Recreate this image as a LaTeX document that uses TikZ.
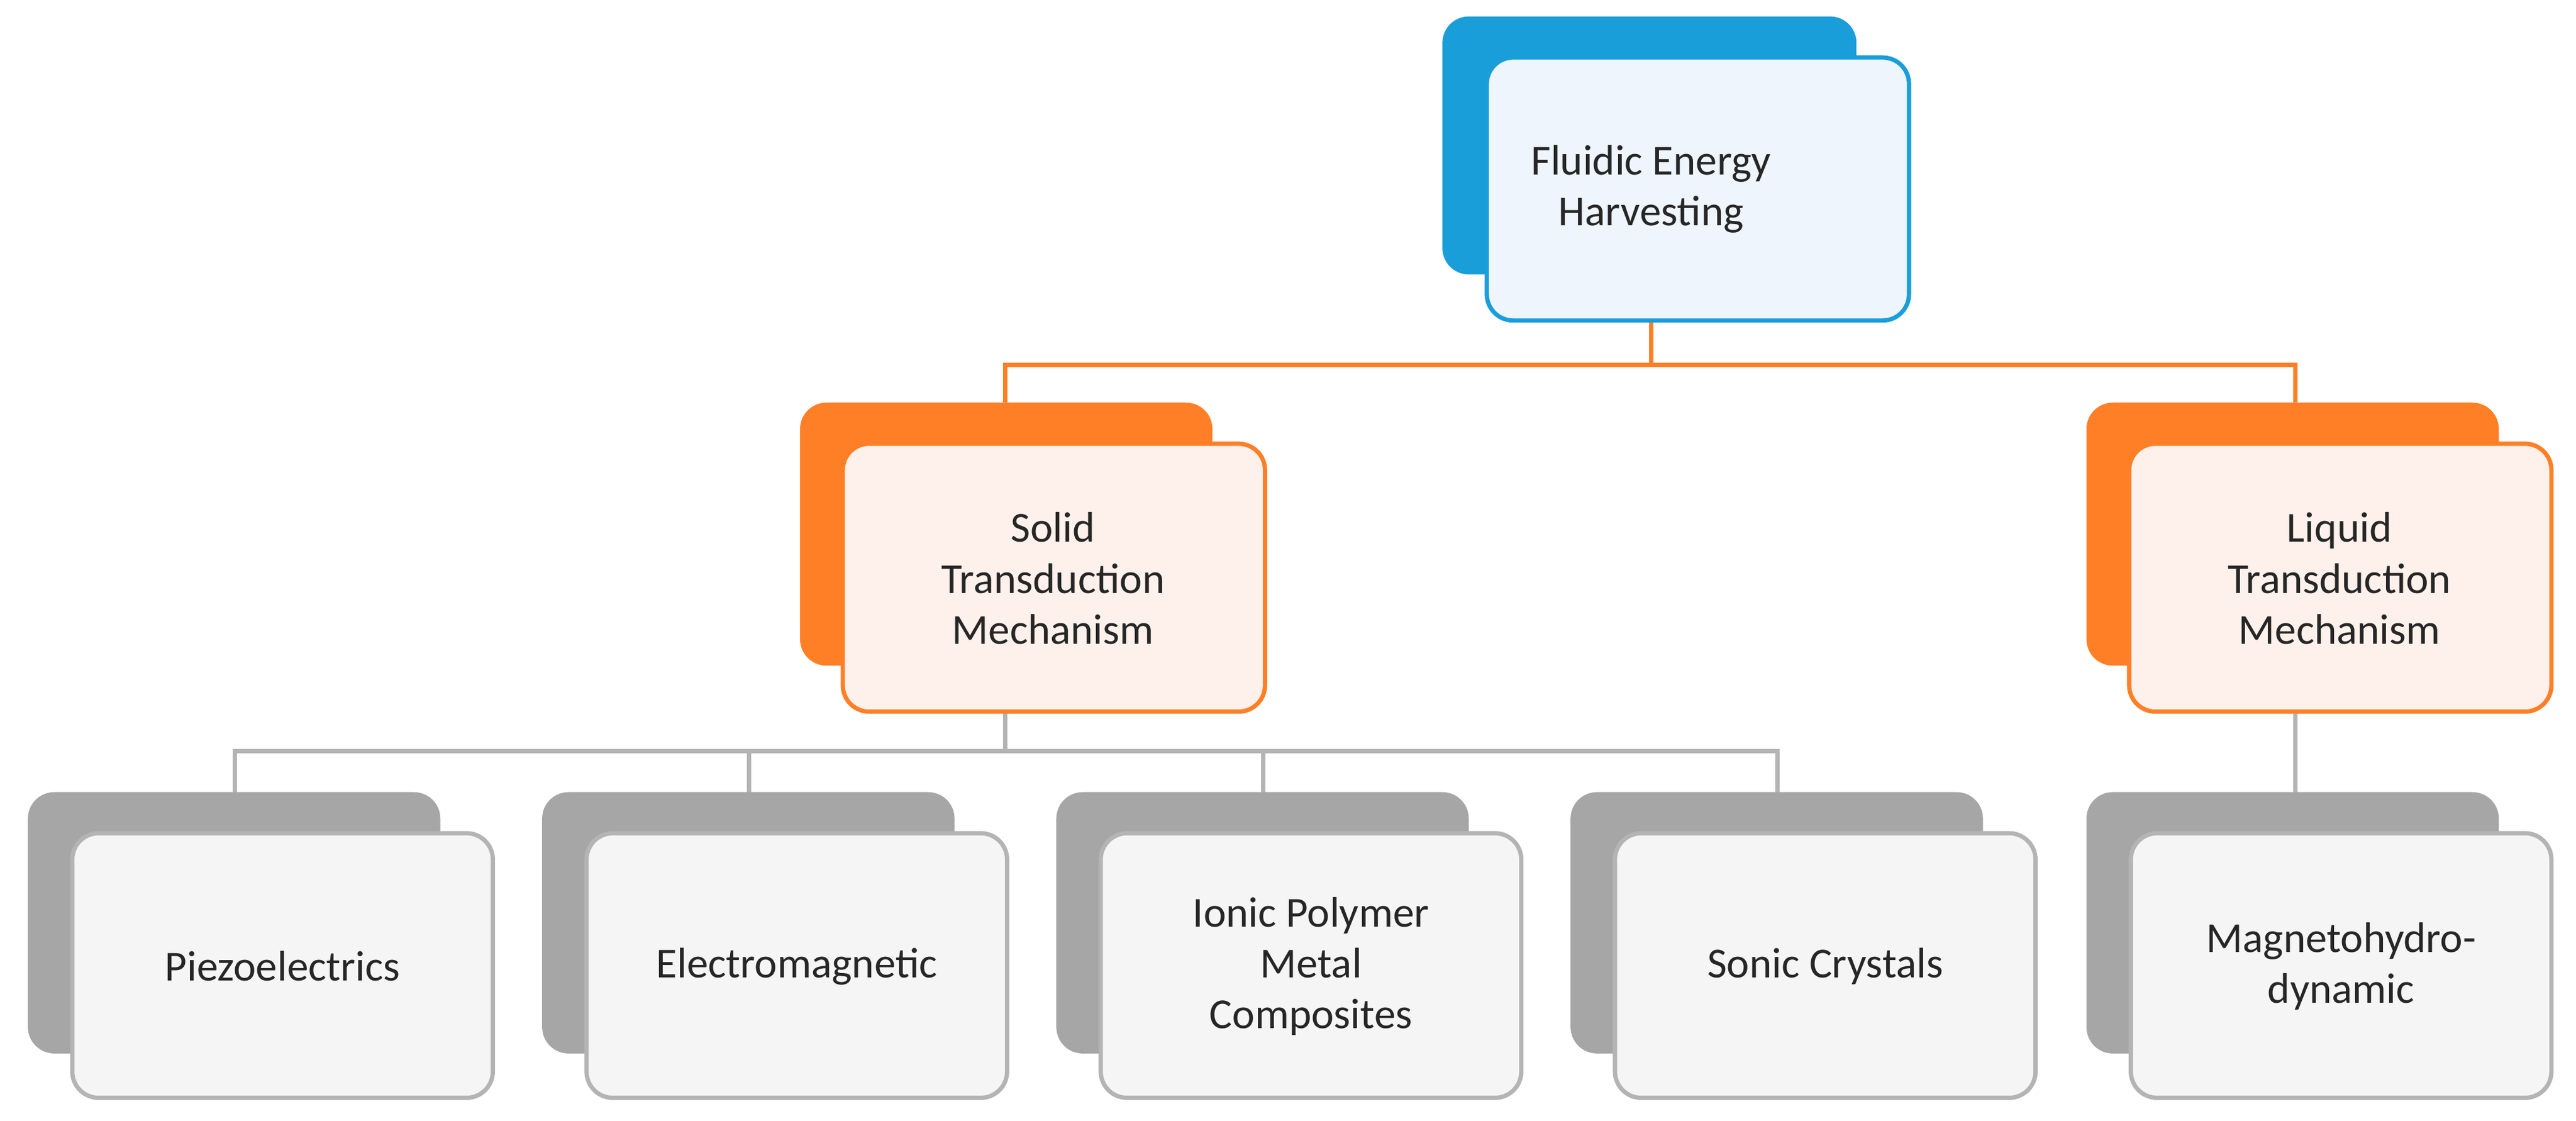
\documentclass[tikz,border=0pt]{standalone}
\usepackage{fontspec}
\setmainfont{Carlito}
\begin{document}
\begin{tikzpicture}[x=0.5pt,y=-0.5pt,
back/.style={rounded corners=8pt},
front/.style={rounded corners=8pt,line width=1.3pt},
lbl/.style={font=\fontsize{13}{15.5}\selectfont,align=center,text=black!85},
bluec/.style={line width=1.3pt,draw=orange!90!red}]
\definecolor{bl}{HTML}{1A9ED9}\definecolor{blf}{HTML}{EEF5FC}
\definecolor{orn}{HTML}{FF7F27}\definecolor{ornf}{HTML}{FEF1EB}
\definecolor{gr}{HTML}{A6A6A6}\definecolor{grf}{HTML}{F5F5F5}\definecolor{grs}{HTML}{B4B4B4}
\useasboundingbox (0,0) rectangle (1568,682);
% connectors
\coordinate (j1) at (1005,222);
\draw[line width=1.3pt,draw=orn] (1005,195) -- (j1) (612,245) |- (j1) -| (1397,245);
\draw[line width=1.3pt,draw=grs] (612,433) -- (612,457) (143,482) |- (612,457) -| (1082,482)
 (456,457)--(456,482) (769,457)--(769,482) (1397,433)--(1397,482);
% top
\fill[bl,back] (878,10) rectangle (1130,167);
\draw[front,draw=bl,fill=blf] (905,35) rectangle (1162,195);
\node[lbl] (top) at (1005,115) {Fluidic Energy\\Harvesting};
% mid
\foreach \x/\t/\n in {487/{Solid\\Transduction\\Mechanism}/s,1270/{Liquid\\Transduction\\Mechanism}/l}{
 \fill[orn,back] (\x,245) rectangle ++(251,160);
 \draw[front,draw=orn,fill=ornf] (\x+26,270) rectangle ++(257,163);
 \node[lbl] (\n) at (\x+154,352) {\t};
}
% bottom
\foreach \x/\t/\n in {17/Piezoelectrics/p,330/Electromagnetic/e,643/{Ionic Polymer\\Metal\\Composites}/i,956/Sonic Crystals/c,1270/{Magnetohydro-\\dynamic}/m}{
 \fill[gr,back] (\x,482) rectangle ++(251,159);
 \draw[front,draw=grs,fill=grf] (\x+27,507) rectangle ++(256,161);
 \node[lbl] (\n) at (\x+155,588) {\t};
}
\end{tikzpicture}
\end{document}
